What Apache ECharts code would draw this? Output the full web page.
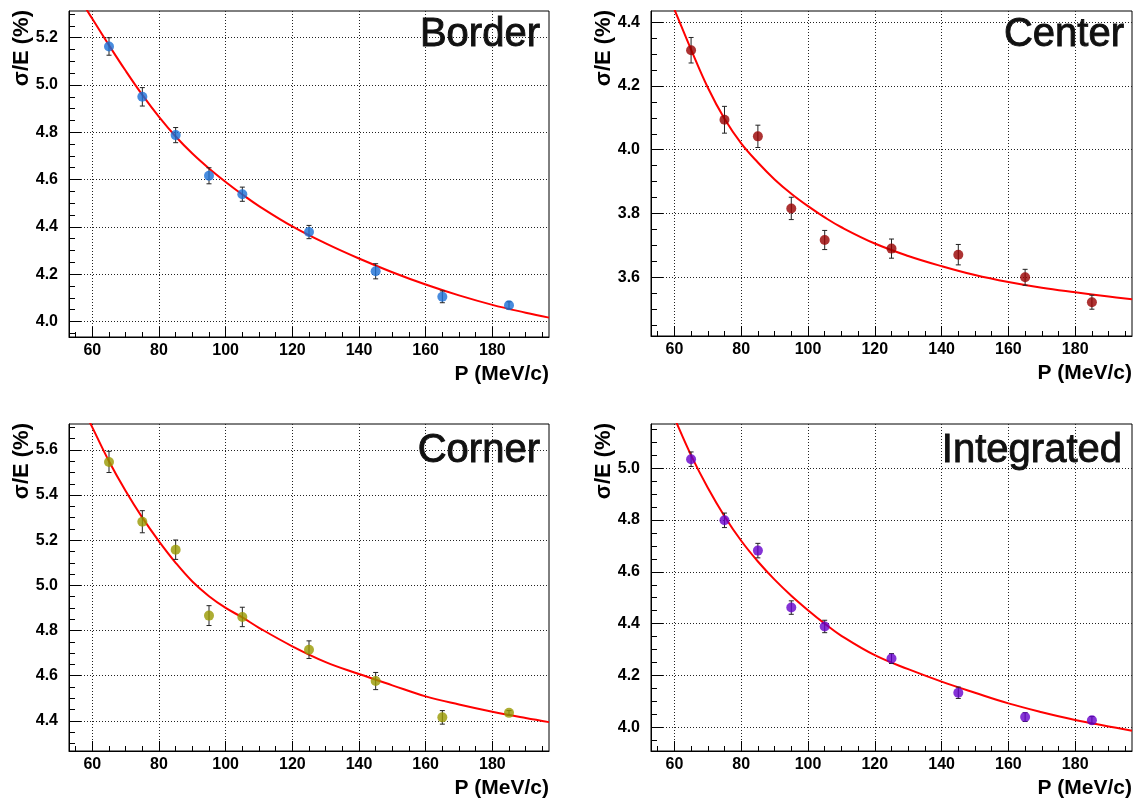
<!DOCTYPE html>
<html>
<head>
<meta charset="utf-8">
<script src="https://cdn.jsdelivr.net/npm/echarts@6/dist/echarts.min.js"></script>
<style>
html, body { margin: 0; padding: 0; background: #fff; }
#chart { width: 1135px; height: 801px; }
</style>
</head>
<body>
<div id="chart"></div>
<script>
// beam momentum of the measured points (MeV/c)
const momentum = [65, 75, 85, 95, 105, 125, 145, 165, 185]

// sigma/E (%) and errors per region
const borderRes = [5.163, 4.950, 4.788, 4.616, 4.538, 4.378, 4.212, 4.104, 4.068]
const borderErr = [0.037, 0.039, 0.032, 0.034, 0.030, 0.028, 0.032, 0.025, 0.015]
const centerRes = [4.312, 4.094, 4.042, 3.816, 3.717, 3.690, 3.671, 3.600, 3.522]
const centerErr = [0.040, 0.042, 0.035, 0.035, 0.030, 0.030, 0.032, 0.025, 0.022]
const cornerRes = [5.547, 5.282, 5.158, 4.866, 4.860, 4.715, 4.576, 4.415, 4.435]
const cornerErr = [0.047, 0.049, 0.043, 0.044, 0.043, 0.039, 0.038, 0.030, 0.010]
const integRes = [5.035, 4.799, 4.682, 4.462, 4.389, 4.265, 4.133, 4.039, 4.027]
const integErr = [0.028, 0.028, 0.028, 0.026, 0.024, 0.019, 0.022, 0.017, 0.014]

// fit curves
const fitP = [58, 60, 65, 70, 75, 80, 85, 90, 95, 100, 105, 110, 120, 130, 140, 150, 160, 170, 180, 190, 197]
const borderFit = [5.325, 5.28, 5.168, 5.06, 4.958, 4.865, 4.782, 4.71, 4.647, 4.59, 4.537, 4.488, 4.402, 4.33, 4.266, 4.208, 4.156, 4.11, 4.07, 4.037, 4.016]
const centerFit = [4.49, 4.44, 4.314, 4.195, 4.097, 4.02, 3.96, 3.907, 3.862, 3.823, 3.788, 3.757, 3.706, 3.667, 3.635, 3.607, 3.585, 3.567, 3.553, 3.540, 3.531]
const cornerFit = [5.76, 5.70, 5.55, 5.418, 5.30, 5.195, 5.10, 5.017, 4.952, 4.90, 4.858, 4.812, 4.73, 4.66, 4.607, 4.557, 4.508, 4.472, 4.44, 4.412, 4.394]
const integFit = [5.255, 5.195, 5.05, 4.925, 4.815, 4.72, 4.64, 4.57, 4.508, 4.452, 4.40, 4.353, 4.278, 4.224, 4.176, 4.133, 4.092, 4.058, 4.028, 4.003, 3.986]

// axis ticks
const xMajor = [60, 80, 100, 120, 140, 160, 180]
const xMinor = [55, 65, 70, 75, 85, 90, 95, 105, 110, 115, 125, 130, 135, 145, 150, 155, 165, 170, 175, 185, 190, 195]
const borderTicks = [4.0, 4.2, 4.4, 4.6, 4.8, 5.0, 5.2]
const centerTicks = [3.6, 3.8, 4.0, 4.2, 4.4]
const cornerTicks = [4.4, 4.6, 4.8, 5.0, 5.2, 5.4, 5.6]
const integTicks = [4.0, 4.2, 4.4, 4.6, 4.8, 5.0]

const FONT = '"Liberation Sans", Arial, Helvetica, sans-serif'

const panels = [
  { name: 'Border', color: '#1a6fd6', res: borderRes, err: borderErr, fit: borderFit, ticks: borderTicks,
    yMin: 3.934, yMax: 5.313, left: 69, top: 11, width: 480, height: 326, titleRight: 540, titleY: 35 },
  { name: 'Center', color: '#990000', res: centerRes, err: centerErr, fit: centerFit, ticks: centerTicks,
    yMin: 3.416, yMax: 4.435, left: 651, top: 11, width: 481, height: 325, titleRight: 1124, titleY: 35 },
  { name: 'Corner', color: '#999900', res: cornerRes, err: cornerErr, fit: cornerFit, ticks: cornerTicks,
    yMin: 4.266, yMax: 5.715, left: 69, top: 424, width: 480, height: 327, titleRight: 540, titleY: 451 },
  { name: 'Integrated', color: '#6600cc', res: integRes, err: integErr, fit: integFit, ticks: integTicks,
    yMin: 3.908, yMax: 5.171, left: 651, top: 424, width: 481, height: 327, titleRight: 1122, titleY: 451 }
]

function minorTicks(min, max, step) {
  const out = []
  for (let v = Math.ceil(min / step) * step; v <= max + 1e-9; v += step) {
    out.push(Math.round(v * 1000) / 1000)
  }
  return out
}

const tickLabel = { fontSize: 16, fontWeight: 'bold', color: '#000', fontFamily: FONT }
const gridLine = { show: true, lineStyle: { color: '#222', width: 1, type: [1, 2] } }

const grids = []
const xAxes = []
const yAxes = []
const series = []
const graphics = []

panels.forEach((p, i) => {
  grids.push({ left: p.left, top: p.top, width: p.width, height: p.height,
    show: true, borderColor: '#000', borderWidth: 1, backgroundColor: '#fff' })

  xAxes.push({
    type: 'value', gridIndex: i, min: 53, max: 197, position: 'bottom',
    axisLine: { onZero: false, lineStyle: { color: '#000', width: 1 } },
    axisTick: { inside: true, length: 10, customValues: xMajor, lineStyle: { color: '#000' } },
    axisLabel: Object.assign({ customValues: xMajor, margin: 6 }, tickLabel),
    splitLine: gridLine
  }, {
    type: 'value', gridIndex: i, min: 53, max: 197, position: 'bottom',
    axisLine: { show: false },
    axisTick: { inside: true, length: 5, customValues: xMinor, lineStyle: { color: '#000' } },
    axisLabel: { show: false },
    splitLine: { show: false }
  })

  yAxes.push({
    type: 'value', gridIndex: i, min: p.yMin, max: p.yMax, position: 'left',
    axisLine: { show: true, onZero: false, lineStyle: { color: '#000', width: 1 } },
    axisTick: { inside: true, length: 12, customValues: p.ticks, lineStyle: { color: '#000' } },
    axisLabel: Object.assign({ customValues: p.ticks, margin: 11, formatter: v => v.toFixed(1) }, tickLabel),
    splitLine: gridLine
  }, {
    type: 'value', gridIndex: i, min: p.yMin, max: p.yMax, position: 'left',
    axisLine: { show: false },
    axisTick: { inside: true, length: 6, customValues: minorTicks(p.yMin, p.yMax, 0.05), lineStyle: { color: '#000' } },
    axisLabel: { show: false },
    splitLine: { show: false }
  })

  const xi = i * 2
  const yi = i * 2

  series.push({
    type: 'line', xAxisIndex: xi, yAxisIndex: yi,
    data: fitP.map((x, k) => [x, p.fit[k]]),
    smooth: 0.4, showSymbol: false, clip: true, silent: true, z: 2,
    lineStyle: { color: '#ff0000', width: 2 }
  })

  series.push({
    type: 'custom', xAxisIndex: xi, yAxisIndex: yi, z: 3, silent: true,
    data: momentum.map((x, k) => [x, p.res[k], p.err[k]]),
    renderItem(params, api) {
      const x = api.value(0)
      const y = api.value(1)
      const e = api.value(2)
      const hi = api.coord([x, y + e])
      const lo = api.coord([x, y - e])
      const st = { stroke: '#222', lineWidth: 1 }
      return {
        type: 'group',
        children: [
          { type: 'line', shape: { x1: hi[0], y1: hi[1], x2: lo[0], y2: lo[1] }, style: st },
          { type: 'line', shape: { x1: hi[0] - 2.5, y1: hi[1], x2: hi[0] + 2.5, y2: hi[1] }, style: st },
          { type: 'line', shape: { x1: lo[0] - 2.5, y1: lo[1], x2: lo[0] + 2.5, y2: lo[1] }, style: st }
        ]
      }
    }
  })

  series.push({
    type: 'scatter', xAxisIndex: xi, yAxisIndex: yi, z: 4, silent: true,
    data: momentum.map((x, k) => [x, p.res[k]]),
    symbol: 'circle', symbolSize: 10,
    itemStyle: { color: p.color }
  })

  // panel label
  graphics.push({
    type: 'text', x: p.titleRight, y: p.titleY, z: 10,
    style: { text: p.name, font: '40px ' + FONT, fill: '#111', stroke: '#111', lineWidth: 0.9,
      align: 'right', verticalAlign: 'middle', shadowColor: 'rgba(0,0,0,0.35)', shadowBlur: 2 }
  })
  // axis titles
  graphics.push({
    type: 'text', x: p.left + p.width, y: p.top + p.height + 37, z: 10,
    style: { text: 'P (MeV/c)', font: 'bold 21px ' + FONT, fill: '#000', align: 'right', verticalAlign: 'middle' }
  })
  graphics.push({
    type: 'text', x: p.left - 47, y: p.top - 1, rotation: Math.PI / 2, z: 10,
    style: { text: 'σ/E (%)', font: 'bold 22px ' + FONT, fill: '#000', align: 'right', verticalAlign: 'middle' }
  })
})

const chart = echarts.init(document.getElementById('chart'))
chart.setOption({
  animation: false,
  backgroundColor: '#fff',
  grid: grids,
  xAxis: xAxes,
  yAxis: yAxes,
  series: series,
  graphic: graphics
})
</script>
</body>
</html>
